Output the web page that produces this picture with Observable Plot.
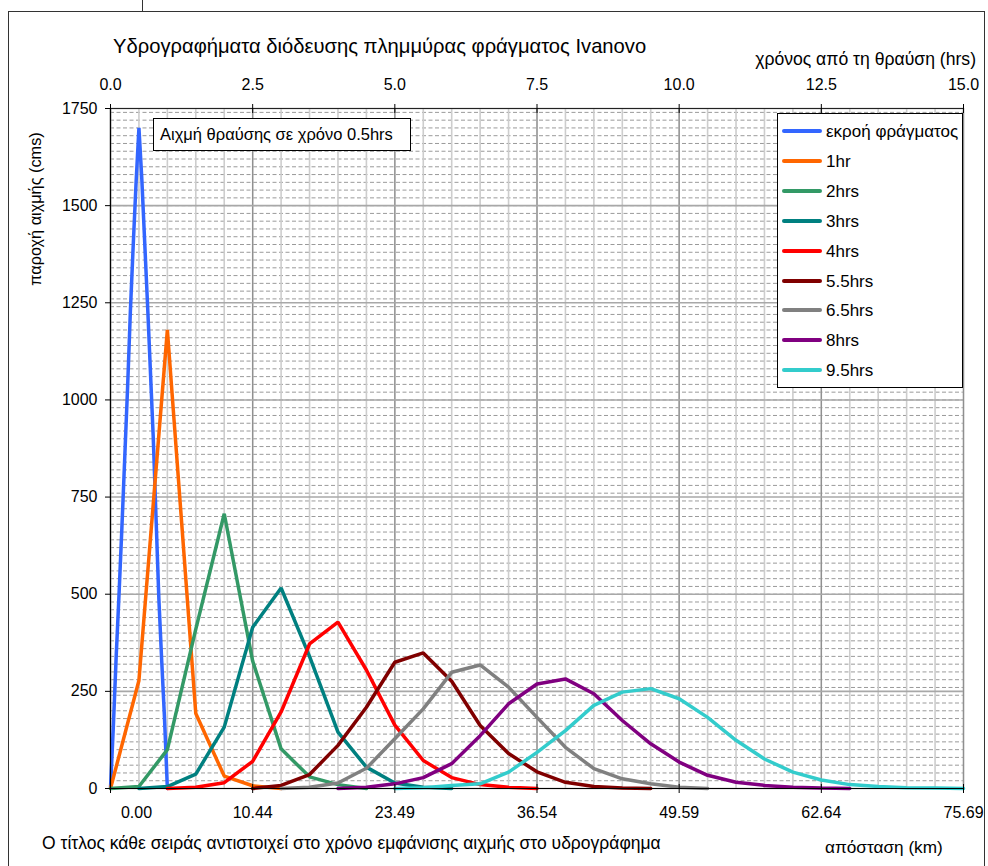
<!DOCTYPE html>
<html>
<head>
<meta charset="utf-8">
<script src="https://cdn.jsdelivr.net/npm/d3@7"></script>
<script src="https://cdn.jsdelivr.net/npm/@observablehq/plot@0.6"></script>
<style>
  body { margin: 0; background: #fff; font-family: "Liberation Sans", Arial, sans-serif; }
  #wrap { position: relative; width: 988px; height: 866px; overflow: hidden; background: #fff; }
  #wrap svg { position: absolute; left: 0; top: 0; }
  .abs { position: absolute; white-space: nowrap; color: #000; line-height: 1; }
  .legend { position: absolute; background: #fff; border: 1.3px solid #000; box-sizing: border-box; }
  .legend .item { position: absolute; left: 4px; height: 30px; }
  .legend .sw { position: absolute; left: 0; width: 40px; height: 4px; border-radius: 2px; }
  .legend .lb { position: absolute; left: 44px; font-size: 17px; line-height: 1; white-space: nowrap; }
</style>
</head>
<body>
<div id="wrap"></div>
<script>
// ---------------- data ----------------
const _ = null;
// time axis (hours after breach) at half-hour steps
const hours = [0,0.5,1,1.5,2,2.5,3,3.5,4,4.5,5,5.5,6,6.5,7,7.5,8,8.5,9,9.5,10,10.5,11,11.5,12,12.5,13,13.5,14,14.5,15];
// dam outflow sampled finer
const outflowHours = [0,0.05,0.1,0.15,0.2,0.25,0.3,0.35,0.4,0.45,0.5,0.55,0.6,0.65,0.7,0.75,0.8,0.85,0.9,0.95,1.0];
const outflow      = [0,160,340,500,670,850,1030,1230,1400,1560,1700,1570,1410,1250,1080,910,700,490,330,180,0];

const hr1    = [0,278,1180,193,32,7,0,_,_,_,_,_,_,_,_,_,_,_,_,_,_,_,_,_,_,_,_,_,_,_,_];
const hrs2   = [0,5,100,410,707,328,102,30,10,0,_,_,_,_,_,_,_,_,_,_,_,_,_,_,_,_,_,_,_,_,_];
const hrs3   = [_,0,5,37,158,415,516,340,145,55,14,3,0,_,_,_,_,_,_,_,_,_,_,_,_,_,_,_,_,_,_];
const hrs4   = [_,_,0,3,15,70,197,372,428,305,163,72,28,10,3,0,_,_,_,_,_,_,_,_,_,_,_,_,_,_,_];
const hrs5_5 = [_,_,_,_,_,0,8,36,111,209,325,349,276,162,90,43,16,5,1,0,_,_,_,_,_,_,_,_,_,_,_];
const hrs6_5 = [_,_,_,_,_,_,0,3,14,52,128,205,299,318,261,183,106,51,25,12,3,0,_,_,_,_,_,_,_,_,_];
const hrs8   = [_,_,_,_,_,_,_,_,0,3,12,28,64,136,218,269,282,244,175,115,68,34,16,8,3,1,0,_,_,_,_];
const hrs9_5 = [_,_,_,_,_,_,_,_,_,_,0,2,8,12,42,93,149,214,248,257,231,183,124,76,42,22,10,5,2,1,0];

const seriesNames  = ["εκροή φράγματος","1hr","2hrs","3hrs","4hrs","5.5hrs","6.5hrs","8hrs","9.5hrs"];
const seriesColors = ["#3366ff","#ff6600","#339966","#008080","#ff0000","#800000","#808080","#800080","#33cccc"];

// axes
const timeTicks = [0,2.5,5,7.5,10,12.5,15];
const distanceLabels = ["0.00","10.44","23.49","36.54","49.59","62.64","75.69"];
const yTicks = [0,250,500,750,1000,1250,1500,1750];
const halfHourGrid = hours;
const minorY = d3.range(20, 1750, 20);

// ---------------- build ----------------
const seriesValues = [null, hr1, hrs2, hrs3, hrs4, hrs5_5, hrs6_5, hrs8, hrs9_5];
const tables = seriesNames.map((name, i) => {
  if (i === 0) return outflowHours.map((t, j) => ({t, v: outflow[j], name}));
  return hours.map((t, j) => ({t, v: seriesValues[i][j], name}));
});

const lineMarks = tables.map((rows, i) =>
  Plot.line(rows, {x: "t", y: "v", stroke: seriesColors[i], strokeWidth: 3.5, strokeLinejoin: "miter"})
);

const bottomLabels = timeTicks.map((t, i) => ({t, label: distanceLabels[i]}));

const chart = Plot.plot({
  width: 988,
  height: 866,
  marginLeft: 110,
  marginRight: 25,
  marginTop: 108,
  marginBottom: 78,
  style: {fontFamily: "'Liberation Sans', Arial, sans-serif", fontSize: "16px", background: "transparent", color: "#000", overflow: "visible"},
  x: {domain: [0, 15]},
  y: {domain: [0, 1750]},
  marks: [
    Plot.ruleY(minorY, {stroke: "#9a9a9a", strokeWidth: 1, strokeDasharray: "4,2.5"}),
    Plot.ruleX(halfHourGrid, {stroke: "#cdcdcd", strokeWidth: 1.6}),
    Plot.ruleX(timeTicks, {stroke: "#8f8f8f", strokeWidth: 1.3}),
    Plot.ruleY(yTicks, {stroke: "#a8a8a8", strokeWidth: 1.6}),
    ...lineMarks,
    Plot.ruleX([0], {stroke: "#000", strokeWidth: 1.2}),
    Plot.ruleY([0], {stroke: "#000", strokeWidth: 1.2}),
    Plot.ruleY([1750], {stroke: "#222", strokeWidth: 1.2}),
    Plot.axisY({ticks: yTicks, tickSize: 5, tickPadding: 8, label: null, fontSize: 16, tickFormat: d => String(d)}),
    Plot.axisX({anchor: "top", ticks: timeTicks, tickSize: 9, dy: 4, tickFormat: () => "", label: null}),
    Plot.axisX({anchor: "bottom", ticks: timeTicks, tickSize: 9, dy: -4, tickFormat: () => "", label: null}),
    Plot.text(timeTicks, {x: d => d, text: d => d.toFixed(1), frameAnchor: "top", lineAnchor: "bottom", dy: -19, fontSize: 16, fill: "#000"}),
    Plot.text(bottomLabels.slice(0, 1), {x: "t", text: "label", frameAnchor: "bottom", lineAnchor: "bottom", dy: 29, dx: 26, fontSize: 16, fill: "#000"}),
    Plot.text(bottomLabels.slice(1), {x: "t", text: "label", frameAnchor: "bottom", lineAnchor: "bottom", dy: 29, fontSize: 16, fill: "#000"})
  ]
});

const wrap = document.getElementById("wrap");
wrap.appendChild(chart);

function addText(txt, css) {
  const d = document.createElement("div");
  d.className = "abs";
  d.textContent = txt;
  Object.assign(d.style, css);
  wrap.appendChild(d);
  return d;
}

// outer chart-area border and tiny top mark
const border = document.createElement("div");
Object.assign(border.style, {position: "absolute", left: "8px", top: "11px", width: "977px", height: "880px", border: "1.5px solid #333", boxSizing: "border-box", pointerEvents: "none"});
wrap.appendChild(border);
const mark = document.createElement("div");
Object.assign(mark.style, {position: "absolute", left: "142px", top: "0px", width: "1px", height: "11px", background: "#333"});
wrap.appendChild(mark);

addText("Υδρογραφήματα διόδευσης πλημμύρας φράγματος Ivanovo", {left: "113px", top: "36px", fontSize: "20.2px"});
addText("χρόνος από τη θραύση (hrs)", {right: "12px", top: "51px", fontSize: "17.6px"});
addText("Ο τίτλος κάθε σειράς αντιστοιχεί στο χρόνο εμφάνισης αιχμής στο υδρογράφημα", {left: "42px", top: "835px", fontSize: "17.5px"});
addText("απόσταση (km)", {left: "825px", top: "839px", fontSize: "17.2px"});
const yl = addText("παροχή αιχμής (cms)", {left: "35px", top: "209px", fontSize: "16.3px"});
yl.style.transform = "translate(-50%,-50%) rotate(-90deg)";

// annotation box
const ann = document.createElement("div");
Object.assign(ann.style, {position: "absolute", left: "153px", top: "118px", width: "258px", height: "33px", border: "1.3px solid #000", background: "#fff", boxSizing: "border-box", fontSize: "16.5px", lineHeight: "31px", paddingLeft: "6px", whiteSpace: "nowrap"});
ann.textContent = "Αιχμή θραύσης σε χρόνο 0.5hrs";
wrap.appendChild(ann);

// legend
const lg = document.createElement("div");
lg.className = "legend";
Object.assign(lg.style, {left: "777px", top: "113px", width: "186px", height: "275px"});
seriesNames.forEach((name, i) => {
  const it = document.createElement("div");
  it.className = "item";
  it.style.top = (2 + i * 29.9) + "px";
  const sw = document.createElement("div");
  sw.className = "sw";
  sw.style.top = "13px";
  sw.style.background = seriesColors[i];
  const lb = document.createElement("div");
  lb.className = "lb";
  lb.style.top = "7px";
  lb.textContent = name;
  it.appendChild(sw);
  it.appendChild(lb);
  lg.appendChild(it);
});
wrap.appendChild(lg);
</script>
</body>
</html>
